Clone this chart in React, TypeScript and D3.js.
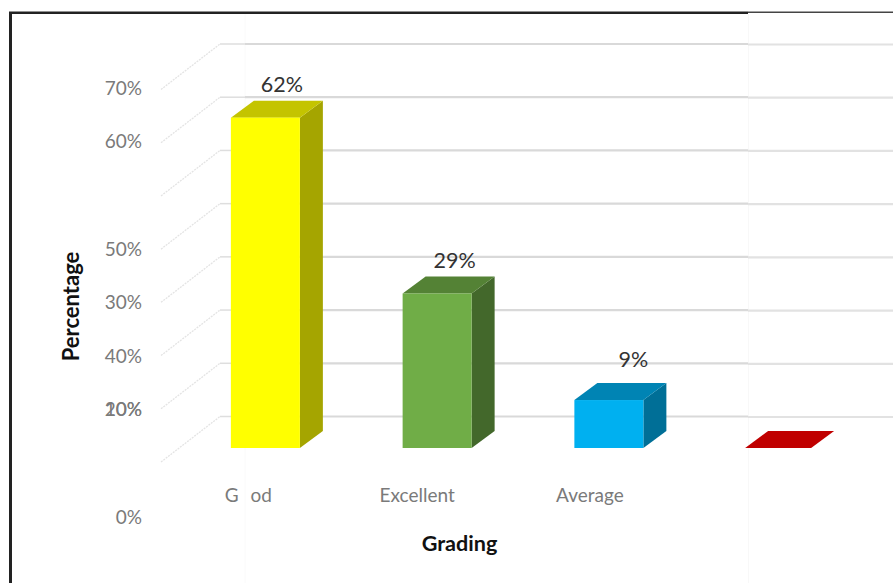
import React from "react";
import * as d3 from "d3";

// Grading results, in percent
const categories = ["Good", "Excellent", "Average", "Poor"];
const percentages = [62, 29, 9, 0];
const categoryLabels = ["G  od", "Excellent", "Average", ""];
const frontColors = ["#ffff00", "#70ad47", "#00b0f0", "#c00000"];
const topColors = ["#c4c400", "#548235", "#0084b4", "#c00000"];
const sideColors = ["#a5a500", "#43682b", "#006f97", "#c00000"];

const gridValues = [0, 10, 20, 30, 40, 50, 60, 70];
// Axis text in the order it is stacked down the axis; rows are evenly spaced slots
const axisLabels = ["70%", "60%", "50%", "30%", "40%", "20%", "10%", "0%"];
const axisRows = [0, 1, 3, 4, 5, 6, 6, 8];

const FONT = "Lato, 'Open Sans', sans-serif";
const WIDTH = 893;
const HEIGHT = 583;
const DEPTH_X = 23;
const DEPTH_Y = 17;
const BAR_WIDTH = 69;

const backY = d3.scaleLinear().domain([0, 70]).range([416.5, 44]);
const frontY = d3.scaleLinear().domain([0, 70]).range([448, 75]);
const x = d3.scaleBand<string>().domain(categories).range([179.5, 866.5]);
const rowY = d3.scaleLinear().domain([0, 8]).range([88, 517]);

// Per-column adjustments: text nudges and the narrower zero-height column
const valueNudgeX = [5, 6, 13, 0];
const valueNudgeY = [8.5, 8.5, 16.5, 0];
const labelNudgeX = [2, -1, 0, 0];
const widthTrim = [0, 0, 0, 3];
const leftShift = [0, 0, 0, -1];

const poly = (pts: [number, number][]) => d3.line()(pts) + "Z";

export default function App() {
  return (
    <svg
      width={WIDTH}
      height={HEIGHT}
      viewBox={`0 0 ${WIDTH} ${HEIGHT}`}
      style={{ position: "fixed", left: 0, top: 0, background: "#fff" }}
      fontFamily={FONT}
    >
      <line x1={245} x2={245} y1={14} y2={HEIGHT} stroke="#fafafa" />
      <line x1={748.5} x2={748.5} y1={14} y2={HEIGHT} stroke="#f8f8f8" />

      {gridValues.map((v) => {
        const y = backY(v);
        return (
          <g key={v} fill="none">
            <path d={`M161,${y + 45.5}L220,${y}`} stroke="#e4e4e4" strokeWidth={1.3} strokeDasharray="2 1" />
            <line x1={220} x2={245} y1={y} y2={y} stroke="#dedede" strokeWidth={1.5} />
            <line x1={245} x2={748} y1={y} y2={y} stroke="#d9d9d9" strokeWidth={2.2} />
            <line x1={748} x2={WIDTH} y1={y + 0.5} y2={y + 0.5} stroke="#e2e2e2" strokeWidth={2.2} />
          </g>
        );
      })}

      {categories.map((c, i) => {
        const left = x(c)! + (x.bandwidth() - BAR_WIDTH) / 2 + leftShift[i];
        const right = left + BAR_WIDTH - widthTrim[i];
        const top = frontY(percentages[i]);
        const base = frontY(0);
        return (
          <g key={c}>
            <path
              d={poly([[right, top], [right + DEPTH_X, top - DEPTH_Y], [right + DEPTH_X, base - DEPTH_Y], [right, base]])}
              fill={sideColors[i]}
            />
            <path
              d={poly([[left, top], [left + DEPTH_X, top - DEPTH_Y], [right + DEPTH_X, top - DEPTH_Y], [right, top]])}
              fill={topColors[i]}
            />
            <rect x={left} y={top} width={right - left} height={base - top} fill={frontColors[i]} />
            {percentages[i] > 0 && (
              <text
                x={right - BAR_WIDTH / 2 + DEPTH_X / 2 + valueNudgeX[i]}
                y={top - DEPTH_Y - valueNudgeY[i]}
                textAnchor="middle"
                fontSize={21.5}
                fill="#333"
              >
                {percentages[i]}%
              </text>
            )}
            <text
              x={left + BAR_WIDTH / 2 - 19 + labelNudgeX[i]}
              y={502}
              textAnchor="middle"
              fontSize={19}
              fill="#7a7a7a"
              wordSpacing={1}
              style={{ whiteSpace: "pre" }}
            >
              {categoryLabels[i]}
            </text>
          </g>
        );
      })}

      {axisLabels.map((t, i) => (
        <text
          key={t}
          x={142}
          y={rowY(axisRows[i])}
          dy="0.35em"
          textAnchor="end"
          fontSize={19}
          fill="#7a7a7a"
        >
          {t}
        </text>
      ))}

      <text
        transform="translate(79,306.5) rotate(-90)"
        textAnchor="middle"
        fontSize={22}
        fontWeight={700}
        fill="#111"
      >
        Percentage
      </text>
      <text x={459.5} y={551} textAnchor="middle" fontSize={21.6} fontWeight={700} fill="#111">
        Grading
      </text>

      {/* Frame: heavier along the left and most of the top */}
      <line x1={10.5} x2={10.5} y1={12} y2={HEIGHT} stroke="#222" strokeWidth={3} />
      <line x1={9} x2={748} y1={12.8} y2={12.8} stroke="#222" strokeWidth={2.4} />
      <line x1={748} x2={WIDTH} y1={12.2} y2={12.2} stroke="#444" strokeWidth={1.5} />
    </svg>
  );
}
